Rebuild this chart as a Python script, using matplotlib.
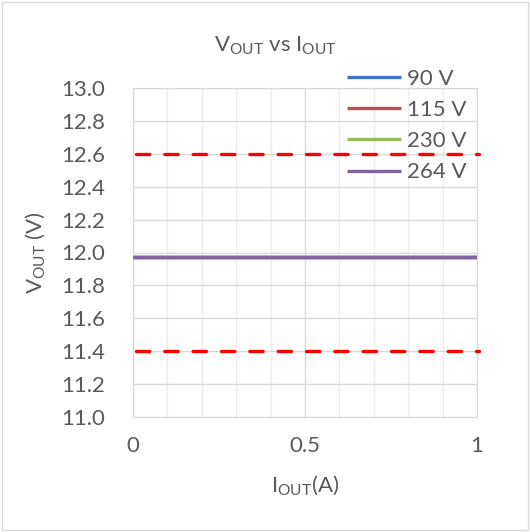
import matplotlib.pyplot as plt
from matplotlib.ticker import MultipleLocator

# data
i_out = [0.0, 0.1, 0.2, 0.3, 0.4, 0.5, 0.6, 0.7, 0.8, 0.9, 1.0]
v_90 = [11.97] * len(i_out)
v_115 = [11.97] * len(i_out)
v_230 = [11.97] * len(i_out)
v_264 = [11.97] * len(i_out)
series_labels = ['90 V', '115 V', '230 V', '264 V']
series_colors = ['#4472C4', '#C0504D', '#9BBB59', '#8064A2']
limit_hi = 12.6
limit_lo = 11.4

plt.rcParams['font.family'] = ['Lato', 'DejaVu Sans']
plt.rcParams['mathtext.fontset'] = 'custom'
plt.rcParams['mathtext.rm'] = 'Lato'
plt.rcParams['mathtext.it'] = 'Lato'
txt = '#595959'
fs = 16

fig = plt.figure(figsize=(5.3, 5.32), dpi=100)
ax = fig.add_axes([133/530, 115/532, 344/530, 329/532])

for v, lab, c in zip([v_90, v_115, v_230, v_264], series_labels, series_colors):
    ax.plot(i_out, v, color=c, lw=2.4, label=lab, solid_capstyle='butt', zorder=3)

for lim in [limit_hi, limit_lo]:
    ax.plot([0.01, 1.005], [lim, lim], color='#FF0000', lw=2.4, ls=(0, (4.0, 4.5)),
            dash_capstyle='round', zorder=4, clip_on=False)

ax.set_xlim(0, 1)
ax.set_ylim(11.0, 13.0)
ax.xaxis.set_minor_locator(MultipleLocator(0.1))
ax.set_xticks([0, 0.5, 1])
ax.set_xticklabels(['0', '0.5', '1'])
ax.yaxis.set_major_locator(MultipleLocator(0.2))
ax.set_yticklabels([f'{t:.1f}' for t in ax.get_yticks()])
ax.grid(which='major', color='#D9D9D9', lw=1.0)
ax.grid(which='minor', axis='x', color='#EDEDED', lw=1.0)
ax.set_axisbelow(True)
for s in ax.spines.values():
    s.set_color('#D9D9D9')
ax.tick_params(which='both', length=0, labelsize=fs, colors=txt)
ax.tick_params(axis='x', pad=14)
ax.tick_params(axis='y', pad=20)

ax.set_xlabel(r'I$_{\mathrm{OUT}}$(A)', fontsize=fs, color=txt, labelpad=12)
ax.set_ylabel(r'V$_{\mathrm{OUT}}$ (V)', fontsize=fs, color=txt, labelpad=10)
fig.text(275/530, 1 - 46/532, r'V$_{\mathrm{OUT}}$ vs I$_{\mathrm{OUT}}$',
         fontsize=fs, color=txt, ha='center', va='center')

fig.legend(loc='upper left', bbox_to_anchor=(347/530, 1 - 69/532), frameon=False,
           fontsize=fs, labelcolor=txt, handlelength=2.45, handletextpad=0.25,
           labelspacing=0.5, borderaxespad=0, borderpad=0)

fig.patches.append(plt.Rectangle((0.003, 0.003), 0.994, 0.994, transform=fig.transFigure,
                                 fill=False, edgecolor='#D9D9D9', lw=1))
fig.savefig('out.png', dpi=100)
